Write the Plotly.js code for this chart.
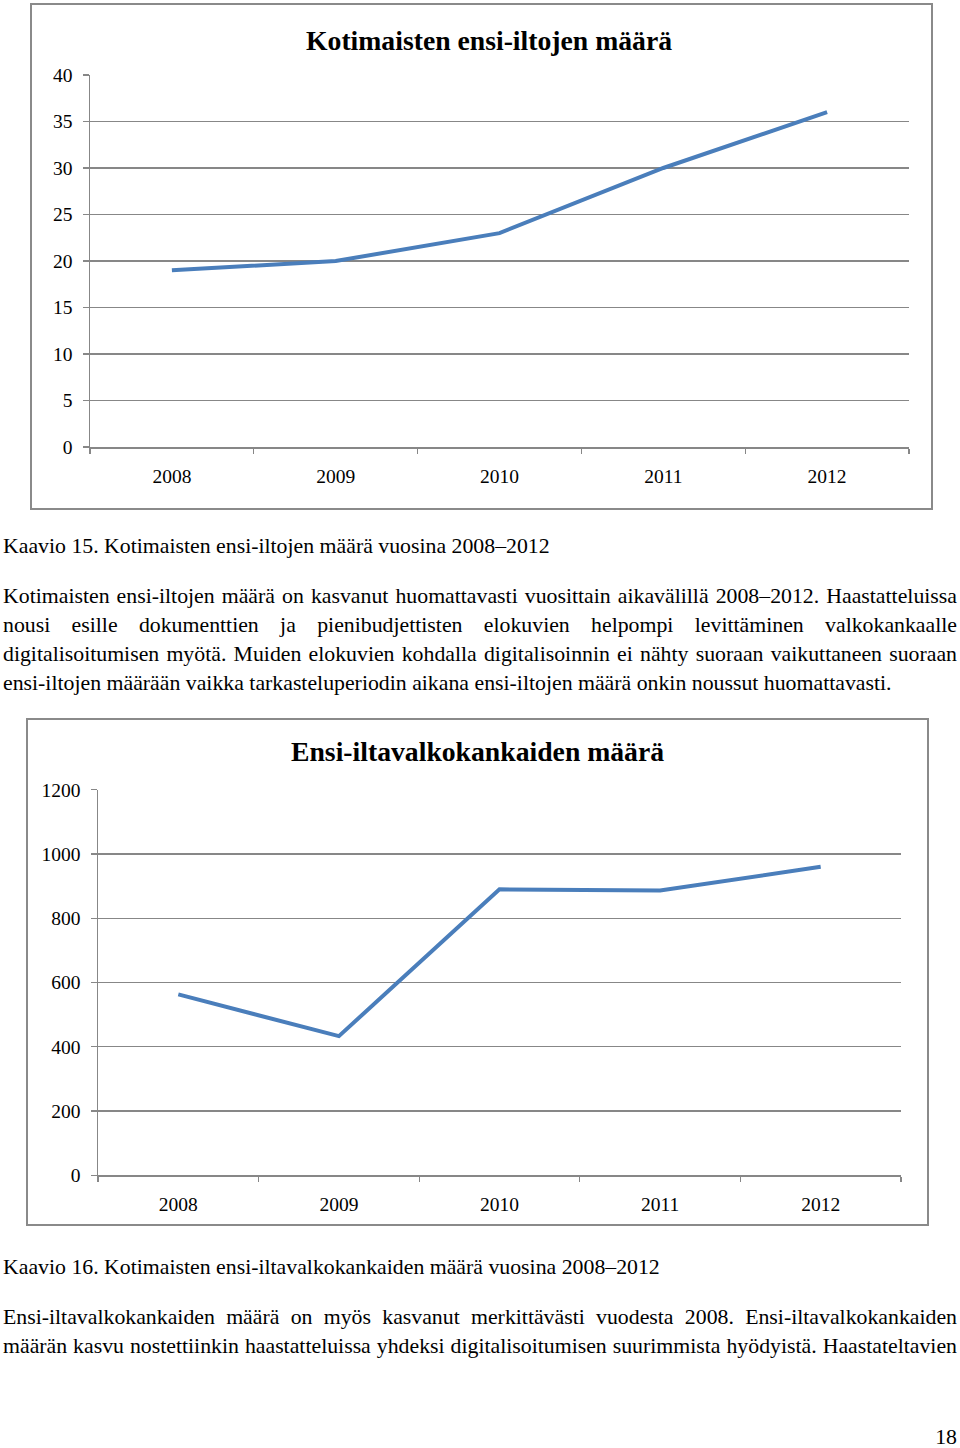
<!DOCTYPE html>
<html>
<head>
<meta charset="utf-8">
<script src="https://cdn.plot.ly/plotly-3.0.1.min.js"></script>
<style>
  html, body { margin: 0; padding: 0; background: #fff; }
  #page { position: relative; width: 960px; height: 1448px; overflow: hidden; }
  #chart { position: absolute; left: 0; top: 0; width: 960px; height: 1448px; }
  .ln { position: absolute; left: 3px; width: 954px; font-family: "Liberation Serif", "Times New Roman", serif;
        font-size: 21.8px; line-height: 29px; color: #000; white-space: nowrap; }
  .j { text-align: justify; text-align-last: justify; }
</style>
</head>
<body>
<div id="page">
  <div id="chart"></div>
</div>
<script>
// ---- data ----
const years = ["2008", "2009", "2010", "2011", "2012"];
const premieres = [19, 20, 23, 30, 36];           // Kotimaisten ensi-iltojen määrä
const screens = [563, 433, 890, 886, 960];          // Ensi-iltavalkokankaiden määrä
const title1 = "Kotimaisten ensi-iltojen määrä";
const title2 = "Ensi-iltavalkokankaiden määrä";
const yTicks1 = [0, 5, 10, 15, 20, 25, 30, 35, 40];
const yTicks2 = [0, 200, 400, 600, 800, 1000, 1200];

const caption1 = "Kaavio 15. Kotimaisten ensi-iltojen määrä vuosina 2008–2012";
const para1 = [
  "Kotimaisten ensi-iltojen määrä on kasvanut huomattavasti vuosittain aikavälillä 2008–2012. Haastatteluissa",
  "nousi esille dokumenttien ja pienibudjettisten elokuvien helpompi levittäminen valkokankaalle",
  "digitalisoitumisen myötä. Muiden elokuvien kohdalla digitalisoinnin ei nähty suoraan vaikuttaneen suoraan",
  "ensi-iltojen määrään vaikka tarkasteluperiodin aikana ensi-iltojen määrä onkin noussut huomattavasti."
];
const caption2 = "Kaavio 16. Kotimaisten ensi-iltavalkokankaiden määrä vuosina 2008–2012";
const para2 = [
  "Ensi-iltavalkokankaiden määrä on myös kasvanut merkittävästi vuodesta 2008. Ensi-iltavalkokankaiden",
  "määrän kasvu nostettiinkin haastatteluissa yhdeksi digitalisoitumisen suurimmista hyödyistä. Haastateltavien"
];
const pageNo = "18";

// ---- geometry helpers (pixel -> paper) ----
const W = 960, H = 1448;
const px = v => v / W;
const py = v => 1 - v / H;

const serif = "Liberation Serif, Times New Roman, serif";
const gridC = "#878787";
const lineC = "#4A7EBB";

function xa(domain, anchor) {
  return {
    domain: domain, anchor: anchor, type: "category",
    range: [-0.5, 4.5], showgrid: false, zeroline: false,
    showline: true, linecolor: gridC, linewidth: 1.5,
    ticks: "outside", tickson: "boundaries", ticklen: 5, tickcolor: gridC, tickwidth: 1.3,
    ticklabelstandoff: 11,
    tickfont: { family: serif, size: 19.5, color: "#000" }, fixedrange: true
  };
}
function ya(domain, anchor, range, ticks) {
  return {
    domain: domain, anchor: anchor, range: range,
    tickmode: "array", tickvals: ticks, ticktext: ticks.map(String),
    showgrid: true, gridcolor: gridC, gridwidth: 1.3, zeroline: false,
    showline: true, linecolor: gridC, linewidth: 1.5,
    ticks: "outside", ticklen: 6, tickcolor: gridC, tickwidth: 1.3,
    ticklabelstandoff: 6,
    tickfont: { family: serif, size: 19.5, color: "#000" }, fixedrange: true
  };
}

const data = [
  { x: years, y: premieres, xaxis: "x", yaxis: "y", type: "scatter", mode: "lines",
    line: { color: lineC, width: 4 }, hoverinfo: "x+y" },
  { x: years, y: screens, xaxis: "x2", yaxis: "y2", type: "scatter", mode: "lines",
    line: { color: lineC, width: 4 }, hoverinfo: "x+y" }
];

const layout = {
  width: W, height: H,
  margin: { l: 0, r: 0, t: 0, b: 0 },
  paper_bgcolor: "#fff", plot_bgcolor: "rgba(0,0,0,0)",
  showlegend: false,
  xaxis: xa([px(90), px(909)], "y"),
  yaxis: ya([py(447), py(75)], "x", [0, 40], yTicks1),
  xaxis2: xa([px(98), px(901)], "y2"),
  yaxis2: ya([py(1175.3), py(789.7)], "x2", [0, 1200], yTicks2),
  shapes: [
    { type: "rect", xref: "paper", yref: "paper", x0: px(31), x1: px(932), y0: py(4), y1: py(509),
      line: { color: "#8a8a8a", width: 2 }, fillcolor: "rgba(0,0,0,0)", layer: "below" },
    { type: "rect", xref: "paper", yref: "paper", x0: px(27), x1: px(928), y0: py(719), y1: py(1225),
      line: { color: "#8a8a8a", width: 2 }, fillcolor: "rgba(0,0,0,0)", layer: "below" }
  ],
  annotations: [
    { text: "<b>" + title1 + "</b>", xref: "paper", yref: "paper", x: px(489), y: py(40),
      xanchor: "center", yanchor: "middle", showarrow: false,
      font: { family: serif, size: 27.7, color: "#000" } },
    { text: "<b>" + title2 + "</b>", xref: "paper", yref: "paper", x: px(477), y: py(751),
      xanchor: "center", yanchor: "middle", showarrow: false,
      font: { family: serif, size: 27.7, color: "#000" } }
  ]
};

Plotly.newPlot("chart", data, layout, { staticPlot: true, displayModeBar: false });

// ---- document text ----
const page = document.getElementById("page");
function addLine(text, centerY, justify, extra) {
  const d = document.createElement("div");
  d.className = "ln" + (justify ? " j" : "");
  d.style.top = (centerY - 14.5) + "px";
  d.textContent = text;
  if (extra) Object.assign(d.style, extra);
  page.appendChild(d);
}
addLine(caption1, 546, false);
para1.forEach((t, i) => addLine(t, 596 + i * 29, i < para1.length - 1));
addLine(caption2, 1267, false);
para2.forEach((t, i) => addLine(t, 1317 + i * 29, true));
addLine(pageNo, 1437, false, { textAlign: "right" });
</script>
</body>
</html>
